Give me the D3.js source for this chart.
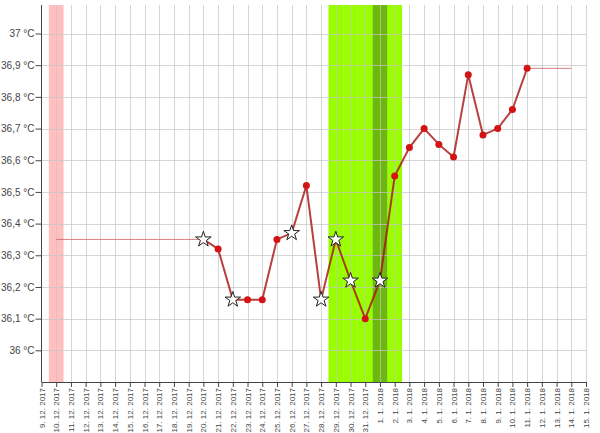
<!DOCTYPE html>
<html>
<head>
<meta charset="utf-8">
<script src="https://cdn.jsdelivr.net/npm/d3@7"></script>
<style>
  body { margin: 0; background: #fff; }
  svg { display: block; font-family: "Liberation Sans", Arial, sans-serif; }
</style>
</head>
<body>
<svg id="chart" width="600" height="433"></svg>
<script>
// measured days and temperatures
var days = ["2017-12-20","2017-12-21","2017-12-22","2017-12-23","2017-12-24","2017-12-25","2017-12-26",
  "2017-12-27","2017-12-28","2017-12-29","2017-12-30","2017-12-31","2018-01-01","2018-01-02","2018-01-03",
  "2018-01-04","2018-01-05","2018-01-06","2018-01-07","2018-01-08","2018-01-09","2018-01-10","2018-01-11"]
var temps = [36.35,36.32,36.16,36.16,36.16,36.35,36.37,36.52,36.16,36.35,36.22,36.10,36.22,36.55,36.64,
  36.70,36.65,36.61,36.87,36.68,36.70,36.76,36.89]
// star = marked day, dot = normal
var marks = ["star","dot","star","dot","dot","dot","star","dot","star","star","star","dot","star","dot","dot",
  "dot","dot","dot","dot","dot","dot","dot","dot"]

// thin guide lines before / after measurements
var leadLine = {from: "2017-12-10", to: "2017-12-20", value: 36.35}
var tailLine = {from: "2018-01-11", to: "2018-01-14", value: 36.89}

// shaded periods
var pinkDays = ["2017-12-10"]
var greenDays = ["2017-12-29","2017-12-30","2017-12-31","2018-01-01","2018-01-02"]
var darkGreenDays = ["2018-01-01"]

var yTicks = [36, 36.1, 36.2, 36.3, 36.4, 36.5, 36.6, 36.7, 36.8, 36.9, 37]

var parse = d3.timeParse("%Y-%m-%d")
var svg = d3.select("#chart")

const plotLeft = 41.5, plotRight = 586, plotTop = 5, plotBottom = 382

const x = d3.scaleTime().domain([parse("2017-12-09"), parse("2018-01-15")]).range([plotLeft, plotRight])
const y = d3.scaleLinear().domain([35.9, 37.09]).range([plotBottom, plotTop])
const dayW = x(parse("2017-12-10")) - x(parse("2017-12-09"))

//bands
function band(list, color){
  svg.append("g").selectAll("rect").data(list).join("rect")
    .attr("x", d => x(parse(d)) - dayW / 2)
    .attr("y", plotTop)
    .attr("width", dayW)
    .attr("height", plotBottom - plotTop)
    .attr("fill", color)
}
band(pinkDays, "#ffbfbf")
band(greenDays, "#99ff00")
band(darkGreenDays, "#6cb80e")

//grid on top of the bands
var allDays = d3.timeDay.range(parse("2017-12-09"), d3.timeDay.offset(parse("2018-01-15"), 1))
var grid = svg.append("g").attr("stroke", "#c4c4c4").attr("stroke-opacity", 0.7).attr("stroke-width", 1)
grid.selectAll(".vg").data(allDays.slice(1)).join("line")
  .attr("x1", d => Math.round(x(d)) + 0.5).attr("x2", d => Math.round(x(d)) + 0.5)
  .attr("y1", plotTop).attr("y2", plotBottom)
grid.selectAll(".hg").data(yTicks).join("line")
  .attr("x1", plotLeft).attr("x2", plotRight)
  .attr("y1", d => Math.round(y(d)) + 0.5).attr("y2", d => Math.round(y(d)) + 0.5)

//axes
var fmtY = d => (d === 37 || d === 36 ? d3.format("d")(d) : d3.format(".1f")(d).replace(".", ",")) + " °C"
var yAxis = svg.append("g").attr("transform", "translate(" + plotLeft + ",0)")
  .call(d3.axisLeft(y).tickValues(yTicks).tickFormat(fmtY).tickSize(6).tickPadding(1).tickSizeOuter(0))
yAxis.selectAll("text").attr("font-size", 10).attr("fill", "#444").attr("font-family", "Liberation Sans, Arial, sans-serif")

var fmtX = d3.timeFormat("%-d. %-m. %Y")
var xAxis = svg.append("g").attr("transform", "translate(0," + plotBottom + ")")
  .call(d3.axisBottom(x).tickValues(allDays).tickFormat(fmtX).tickSize(5).tickSizeOuter(0))
xAxis.selectAll("text")
  .attr("font-size", 8).attr("fill", "#444").attr("font-family", "Liberation Sans, Arial, sans-serif")
  .attr("transform", "rotate(-90)")
  .attr("text-anchor", "end")
  .attr("x", -6).attr("y", 0).attr("dy", "0.32em")
svg.selectAll(".domain").attr("stroke", "#444")
svg.selectAll(".tick line").attr("stroke", "#444")
yAxis.select(".domain").attr("d", "M0," + plotTop + "V" + plotBottom)

//guide lines
;[leadLine, tailLine].forEach(function(l){
  svg.append("line")
    .attr("x1", x(parse(l.from))).attr("x2", x(parse(l.to)))
    .attr("y1", y(l.value)).attr("y2", y(l.value))
    .attr("stroke", "#d06060").attr("stroke-opacity", 0.8).attr("stroke-width", 1)
})

//main line
var pts = days.map((d, i) => ({date: parse(d), t: temps[i], mark: marks[i]}))
svg.append("path").datum(pts)
  .attr("fill", "none")
  .attr("stroke", "#a81010").attr("stroke-opacity", 0.8)
  .attr("stroke-width", 2)
  .attr("d", d3.line().x(d => x(d.date)).y(d => y(d.t)))

svg.append("g").selectAll("circle").data(pts.filter(d => d.mark === "dot")).join("circle")
  .attr("cx", d => x(d.date)).attr("cy", d => y(d.t)).attr("r", 3.5)
  .attr("fill", "#d41414")

svg.append("g").selectAll("path").data(pts.filter(d => d.mark === "star")).join("path")
  .attr("transform", d => "translate(" + x(d.date) + "," + y(d.t) + ")")
  .attr("d", d3.symbol().type(d3.symbolStar).size(75))
  .attr("fill", "#fff").attr("stroke", "#222").attr("stroke-width", 1)
</script>
</body>
</html>
